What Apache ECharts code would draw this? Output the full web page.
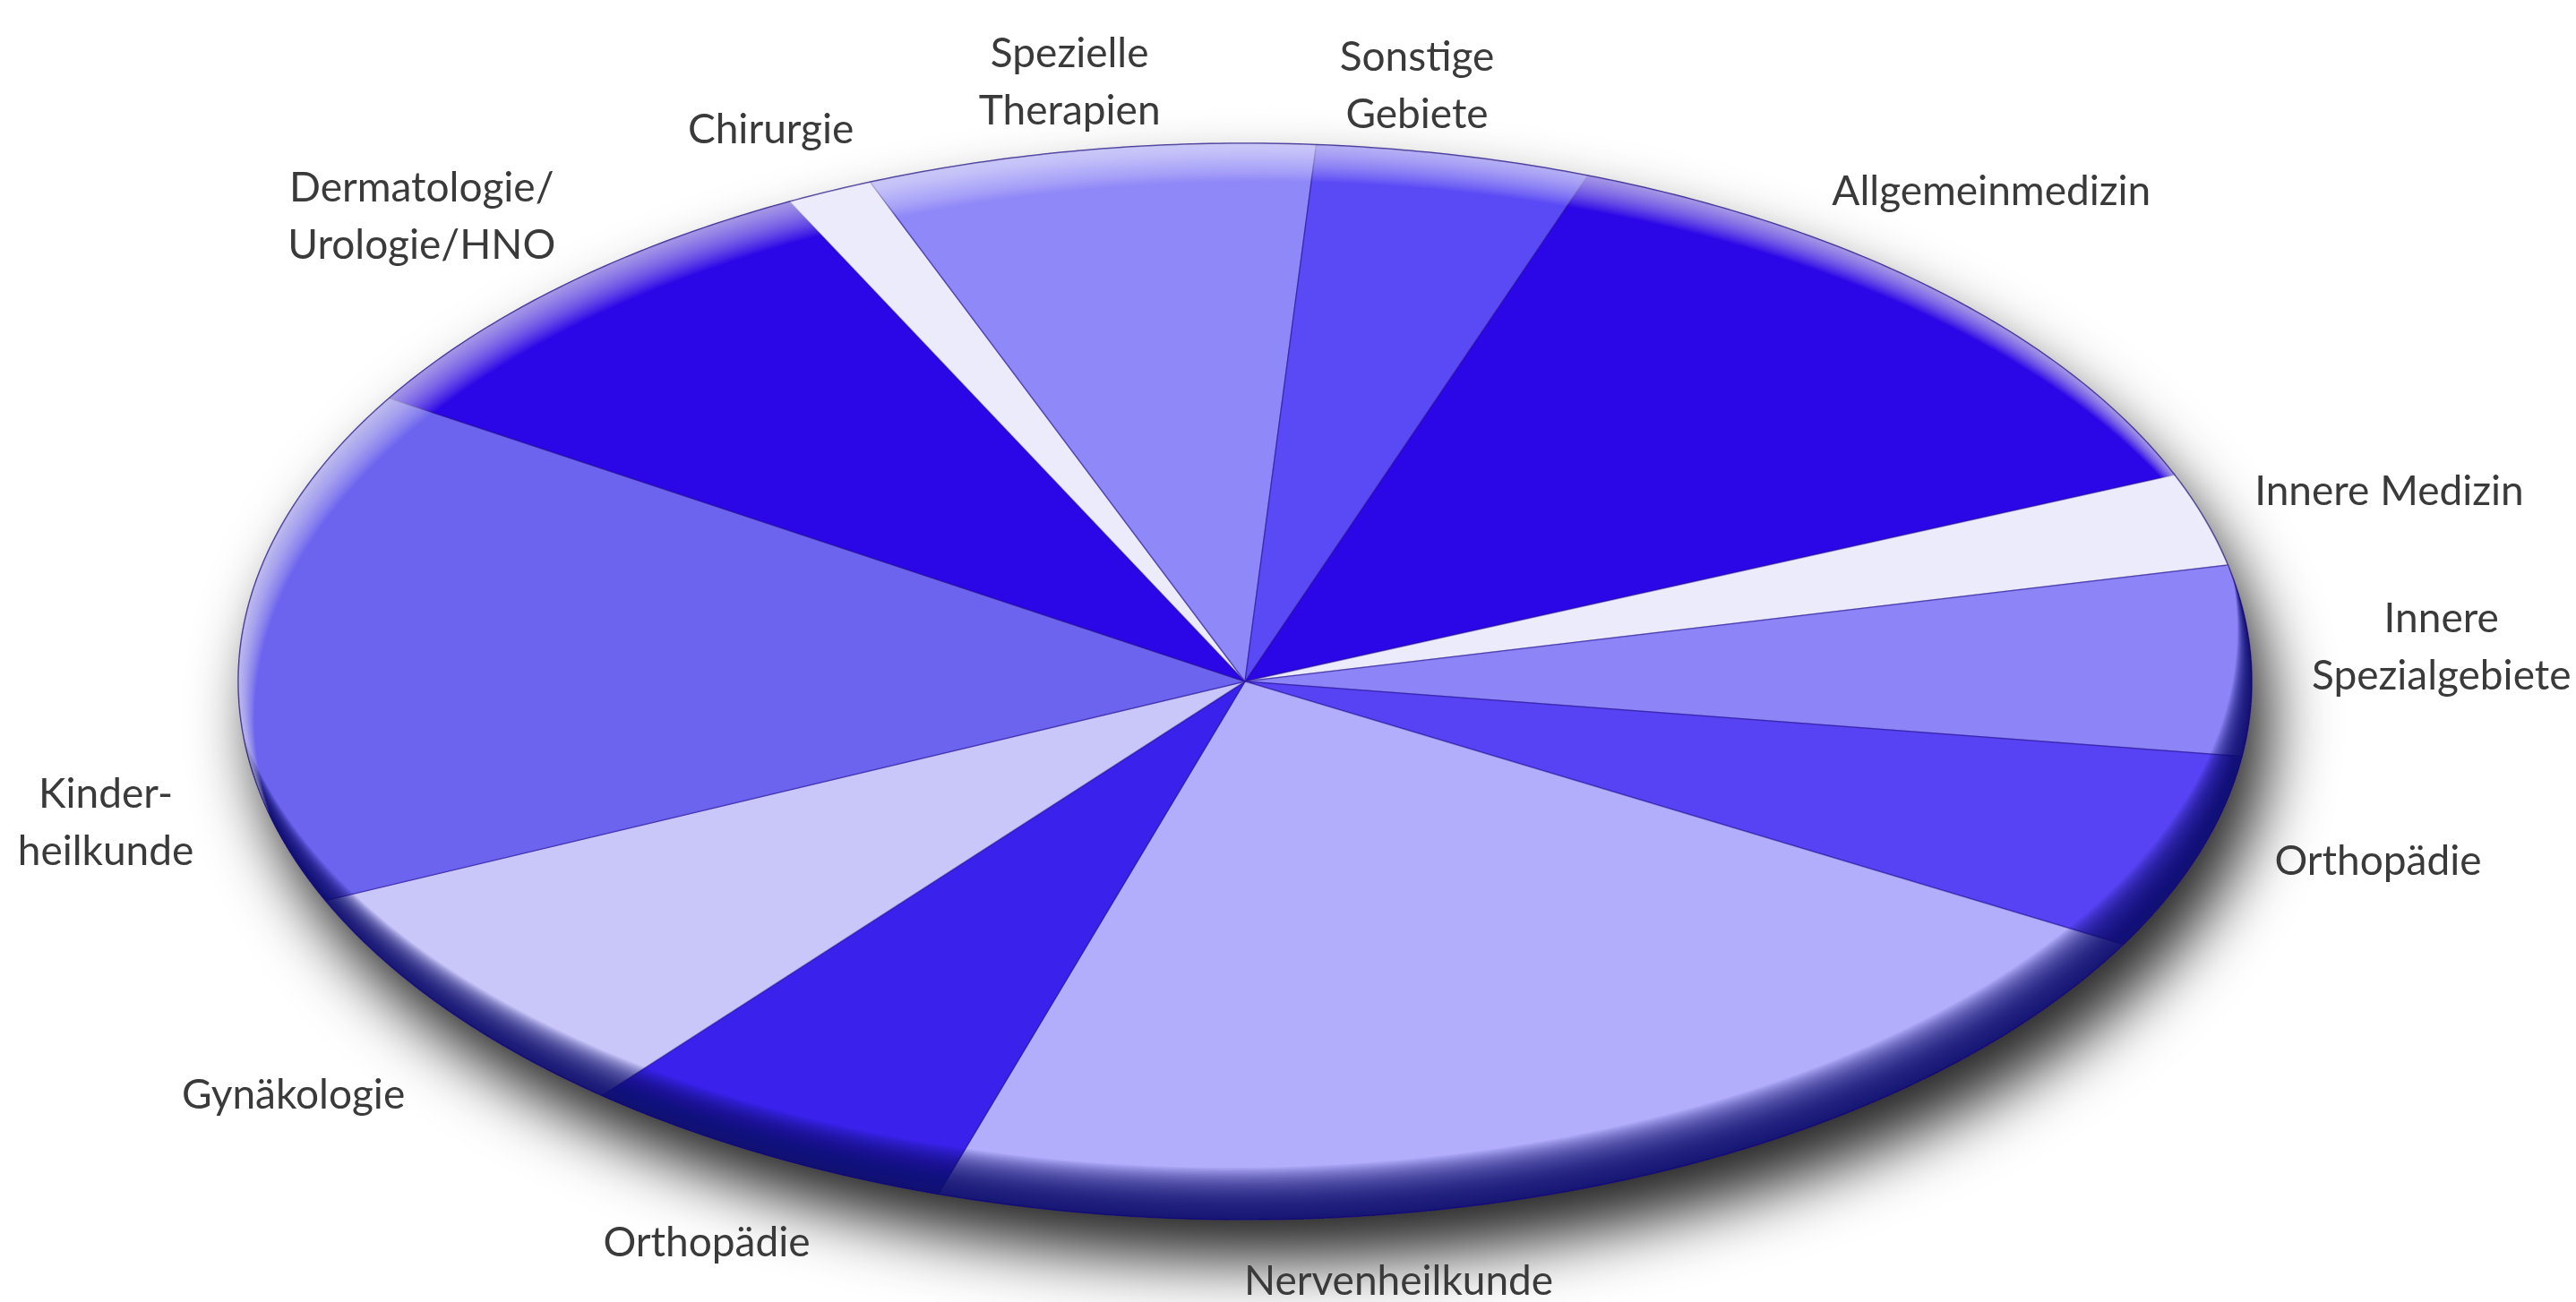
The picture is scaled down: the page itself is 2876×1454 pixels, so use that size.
<!DOCTYPE html>
<html><head><meta charset="utf-8">
<style>html,body{margin:0;padding:0;background:#fff}#c{width:2876px;height:1454px}</style>
<script src="https://cdn.jsdelivr.net/npm/echarts@6/dist/echarts.min.js"></script>
</head><body><div id="c"></div>
<script>
// ---- data ----
const categories = ['Allgemeinmedizin', 'Innere Medizin', 'Innere\nSpezialgebiete', 'Orthopädie', 'Nervenheilkunde', 'Orthopädie', 'Gynäkologie', 'Kinder-\nheilkunde', 'Dermatologie/\nUrologie/HNO', 'Chirurgie', 'Spezielle\nTherapien', 'Sonstige\nGebiete'];
const shares = [13.2, 2.8, 5.7, 5.9, 21.8, 6.1, 7.3, 15.5, 8.7, 1.4, 7.2, 4.4];

// ---- style / layout ----
const sliceColors = ['#2b06e6', '#ecebfc', '#8c84f7', '#5843f4', '#b3aefc', '#3a22ec', '#c9c6fa', '#6c64ee', '#2b06e6', '#ecebfc', '#8f88f8', '#5a4af5'];
const START_ANGLE = 289.9;            // degrees, clockwise from 3 o'clock
// label placement: angle shift from slice middle (deg) and radius (relative to pie radius)
const labelAngleShift = [-4.5, 0.3, -0.8, -2.1, 13.7, -1.6, -2, -17, -0.9, -0.3, 0, -3.2];
const labelRadius = [1.174, 1.19, 1.19, 1.174, 1.125, 1.173, 1.219, 1.162, 1.189, 1.128, 1.126, 1.119];
const FONT = "Lato, 'Noto Sans', sans-serif";

const total = shares.reduce((a, b) => a + b, 0);
let acc = START_ANGLE;
const sliceData = shares.map((v, i) => {
  const a0 = acc, a1 = acc + v / total * 360;
  acc = a1;
  return { name: categories[i], value: [0, 0, a0, a1, v] };
});

const D2R = Math.PI / 180;
function ellPt(api, deg, r) {
  const t = deg * D2R;
  return api.coord([r * Math.cos(t), r * Math.sin(t)]);
}
function ellipsePoints(api, dx, dy) {
  const pts = [];
  for (let k = 0; k < 720; k++) {
    const t = k * 0.5 * D2R;
    pts.push(api.coord([dx + Math.cos(t), dy + Math.sin(t)]));
  }
  return pts;
}
// crescent = ellipse minus the same ellipse shifted by (sx, sy) pixels
function crescent(api, sx, sy) {
  const c = api.coord([0, 0]);
  const rx = api.coord([1, 0])[0] - c[0];
  const ry = api.coord([0, 1])[1] - c[1];
  const ux = sx / rx, uy = sy / ry;
  const d = Math.hypot(ux, uy);
  const al = Math.atan2(uy, ux);
  const be = Math.acos(Math.min(1, d / 2));
  const pts = [];
  const n1 = 240;
  for (let k = 0; k <= n1; k++) {
    const t = al + be + (2 * Math.PI - 2 * be) * k / n1;
    pts.push(api.coord([Math.cos(t), Math.sin(t)]));
  }
  const n2 = 160;
  for (let k = 0; k <= n2; k++) {
    const p = al + Math.PI + be - 2 * be * k / n2;
    pts.push(api.coord([ux + Math.cos(p), uy + Math.sin(p)]));
  }
  return pts;
}

function renderShadow(params, api) {
  return {
    type: 'polygon',
    shape: { points: ellipsePoints(api, 0, 0) },
    style: { fill: '#3a30c8', shadowColor: 'rgba(0,0,0,0.85)', shadowBlur: 70, shadowOffsetX: 20, shadowOffsetY: 45 }
  };
}

function renderSlice(params, api) {
  const i = params.dataIndex;
  const a0 = api.value(2), a1 = api.value(3);
  const pts = [api.coord([0, 0])];
  const n = Math.max(2, Math.ceil((a1 - a0) / 0.5));
  for (let k = 0; k <= n; k++) pts.push(ellPt(api, a0 + (a1 - a0) * k / n, 1));
  const mid = (a0 + a1) / 2 + labelAngleShift[i];
  const lp = ellPt(api, mid, labelRadius[i]);
  return {
    type: 'group',
    children: [
      { type: 'polygon', shape: { points: pts },
        style: { fill: sliceColors[i], stroke: 'rgba(35,15,140,0.45)', lineWidth: 1.5, lineJoin: 'round' } },
      { type: 'text', x: lp[0], y: lp[1],
        style: { text: categories[i], fill: '#3a3a3a', fontSize: 46, fontFamily: FONT,
                 align: 'center', verticalAlign: 'middle', lineHeight: 64 } }
    ]
  };
}

function renderBevel(params, api) {
  const children = [];
  const N = 40;
  const aDark = 1 - Math.pow(1 - 0.93, 1 / N);
  for (let k = 1; k <= N; k++) {
    const f = k / N;
    children.push({ type: 'polygon', shape: { points: crescent(api, -16 * f, -58 * f) },
      style: { fill: 'rgba(20,8,110,' + aDark.toFixed(4) + ')' } });
  }
  const M = 30;
  const aLight = 1 - Math.pow(1 - 0.62, 1 / M);
  for (let k = 1; k <= M; k++) {
    const f = k / M;
    children.push({ type: 'polygon', shape: { points: crescent(api, 18 * f, 42 * f) },
      style: { fill: 'rgba(255,255,255,' + aLight.toFixed(4) + ')' } });
  }
  children.push({ type: 'polygon', shape: { points: ellipsePoints(api, 0, 0) },
    style: { fill: 'none', stroke: 'rgba(30,15,130,0.5)', lineWidth: 1.5 } });
  return { type: 'group', children };
}

const chart = echarts.init(document.getElementById('c'));
chart.setOption({
  animation: false,
  backgroundColor: '#ffffff',
  grid: { left: 266, right: 362, top: 160, bottom: 92 },
  xAxis: { type: 'value', min: -1, max: 1, show: false },
  yAxis: { type: 'value', min: -1, max: 1, inverse: true, show: false },
  series: [
    { type: 'custom', z: 1, silent: true, data: [[0, 0]], encode: { x: 0, y: 1 }, renderItem: renderShadow },
    { type: 'custom', z: 2, data: sliceData, encode: { x: 0, y: 1 }, renderItem: renderSlice },
    { type: 'custom', z: 3, silent: true, data: [[0, 0]], encode: { x: 0, y: 1 }, renderItem: renderBevel }
  ]
});
</script>
</body></html>
